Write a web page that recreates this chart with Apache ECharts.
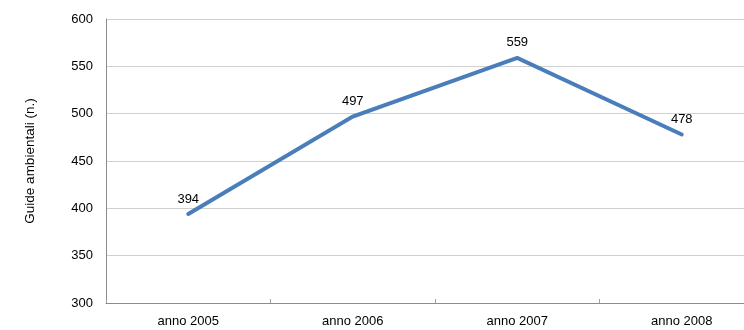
<!DOCTYPE html>
<html><head><meta charset="utf-8">
<script src="https://cdn.jsdelivr.net/npm/echarts@6/dist/echarts.min.js"></script>
<style>html,body{margin:0;padding:0;background:#fff;overflow:hidden;width:744px;height:330px}#c{width:764px;height:330px}</style>
</head><body><div id="c"></div>
<script>
const categories = ['anno 2005', 'anno 2006', 'anno 2007', 'anno 2008'];
const values = [394, 497, 559, 478];
const yTicks = [300, 350, 400, 450, 500, 550, 600];
const yTitle = 'Guide ambientali (n.)';

const chart = echarts.init(document.getElementById('c'), null, {renderer: 'canvas'});
chart.setOption({
  animation: false,
  textStyle: {fontFamily: 'Liberation Sans, Arial, sans-serif'},
  grid: {left: 106, right: 0, top: 19, bottom: 27, containLabel: false},
  xAxis: {
    type: 'category', data: categories, boundaryGap: true,
    axisLine: {lineStyle: {color: '#8c8c8c', width: 1}},
    axisTick: {show: true, inside: true, length: 4, lineStyle: {color: '#a0a0a0'}},
    axisLabel: {color: '#000', fontSize: 13, margin: 12}
  },
  yAxis: {
    type: 'value', min: yTicks[0], max: yTicks[yTicks.length - 1], interval: 50,
    name: yTitle, nameLocation: 'middle', nameGap: 69, nameRotate: 90,
    nameTextStyle: {color: '#000', fontSize: 13.5},
    axisLine: {show: true, lineStyle: {color: '#8c8c8c', width: 1}},
    axisTick: {show: false},
    axisLabel: {color: '#000', fontSize: 13, margin: 13},
    splitLine: {lineStyle: {color: '#d0d0d0', width: 1}}
  },
  series: [{
    type: 'line', data: values, symbol: 'circle', symbolSize: 1, showSymbol: true,
    lineStyle: {color: '#4a7ebb', width: 4, cap: 'round', join: 'miter'},
    itemStyle: {color: '#4a7ebb', opacity: 0},
    label: {show: true, position: 'top', distance: 8, color: '#000', fontSize: 13, opacity: 1}
  }]
});
</script></body></html>
